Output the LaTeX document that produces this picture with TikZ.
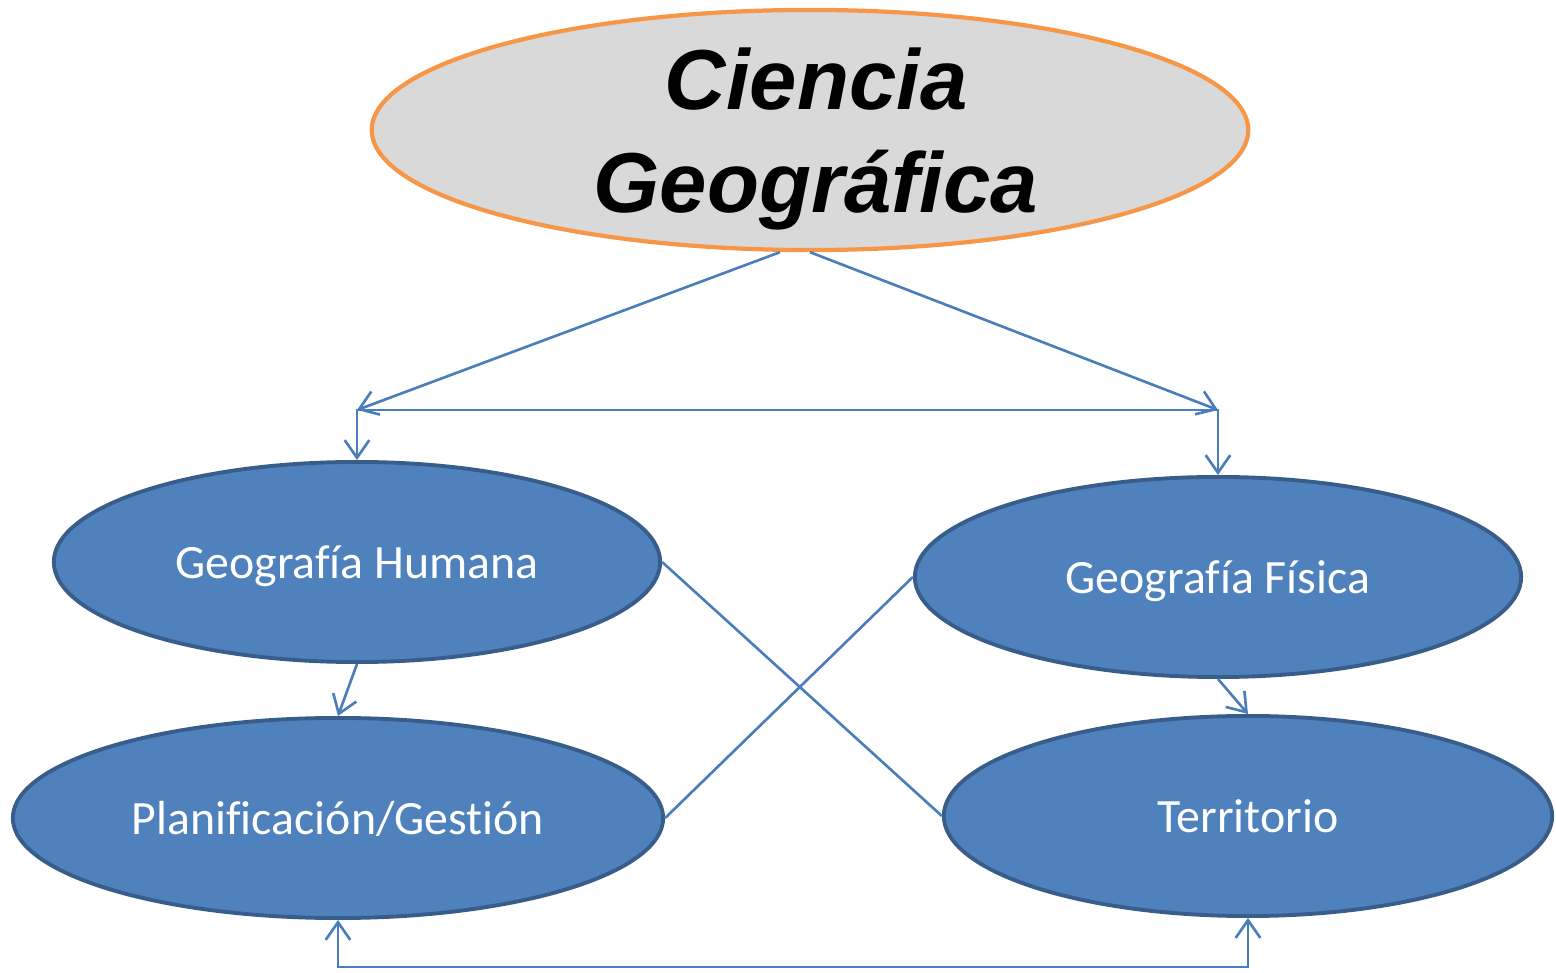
\documentclass[tikz,border=0pt]{standalone}
\usepackage{fontspec}
\setmainfont{Carlito}[Ligatures=NoCommon]
\newfontfamily\titlefont{Liberation Sans}
\usetikzlibrary{shapes.geometric,arrows.meta}

\definecolor{boxblue}{HTML}{4F81BD}
\definecolor{boxedge}{HTML}{385D8A}
\definecolor{linkblue}{HTML}{4A7EBB}
\definecolor{topedge}{HTML}{F79646}
\definecolor{topfill}{HTML}{D9D9D9}

\begin{document}
\begin{tikzpicture}[x=0.01cm,y=-0.01cm,
    topnode/.style={ellipse,draw=topedge,fill=topfill,line width=1.2pt,
      minimum width=8.76cm,minimum height=2.4cm,inner sep=0pt,align=center,
      text depth=0pt,
      font=\titlefont\bfseries\itshape\fontsize{24.2pt}{29.3pt}\selectfont},
    branch/.style={ellipse,draw=boxedge,fill=boxblue,line width=1.1pt,
      minimum width=6.06cm,minimum height=2cm,inner sep=0pt,text=white,
      text depth=0pt,font=\fontsize{13.6pt}{16.5pt}\selectfont},
    link/.style={draw=linkblue,line width=0.75pt},
    tip/.style={link,-{Straight Barb[length=5pt,width=7pt]}},
    twotip/.style={link,{Straight Barb[length=5pt,width=7pt]}-{Straight Barb[length=5pt,width=7pt]}}]
  \useasboundingbox (0,0) rectangle (1556,973);

  \node[topnode] (ciencia) at (810,130) {\hspace*{0.12cm}Ciencia\\\hspace*{0.12cm}Geográfica};
  \node[branch] (humana) at (357,562) {Geografía Humana};
  \node[branch] (fisica) at (1218,577) {Geografía Física};
  \node[branch,minimum width=6.5cm] (plan) at (338,818) {Planificación/Gestión};
  \node[branch,minimum width=6.08cm] (terr) at (1248,816) {Territorio};

  \coordinate (cl) at (357,410);
  \coordinate (cr) at (1218,410);

  \draw[tip] ([xshift=-0.3cm]ciencia.south) -- (cl);
  \draw[tip] (ciencia.south) -- (cr);
  \draw[twotip] (humana.north) |- (cl) -- (cr) -| (fisica.north);

  \draw[tip] (humana.south) -- (plan.north);
  \draw[tip] (fisica.south) -- (terr.north);
  \draw[link] (humana.east) -- (terr.west);
  \draw[link] (fisica.west) -- (plan.east);

  \draw[twotip] (plan.south) -- ++(0,47) -| (terr.south);
\end{tikzpicture}
\end{document}
